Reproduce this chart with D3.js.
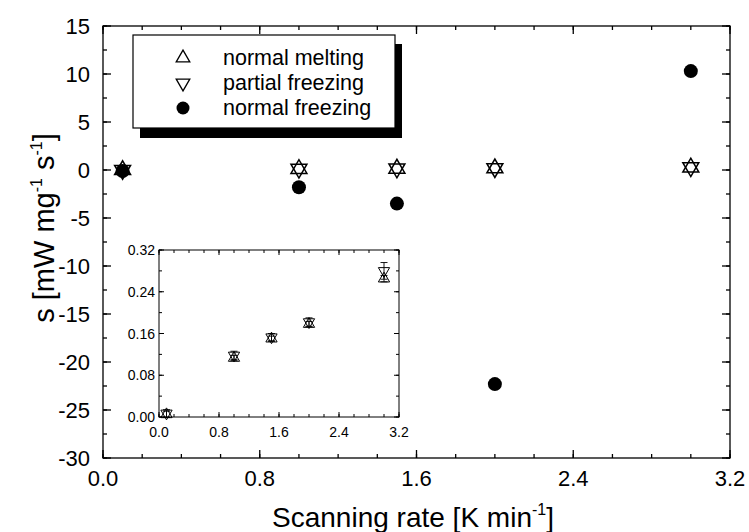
<!DOCTYPE html>
<html><head><meta charset="utf-8">
<script src="https://cdn.jsdelivr.net/npm/d3@7"></script>
<style>body{margin:0;background:#fff}svg{font-family:"Liberation Sans",Arial,sans-serif}</style>
</head><body><svg id="c" width="749" height="532"></svg>
<script>
const rates = [0.1, 1.0, 1.5, 2.0, 3.0];
const meltingMain = [0.0, 0.12, 0.15, 0.18, 0.27];
const partialMain = [0.0, 0.12, 0.15, 0.18, 0.28];
const freezingMain = [-0.1, -1.8, -3.5, -22.3, 10.3];
const meltingInset = [0.005, 0.113, 0.150, 0.178, 0.265];
const partialInset = [0.007, 0.118, 0.153, 0.182, 0.280];
const meltingErr = [0.006, 0.005, 0.005, 0.005, 0.006];
const partialErr = [0.007, 0.008, 0.007, 0.008, 0.016];
const xTicks = [0.0, 0.8, 1.6, 2.4, 3.2];
const yTicks = [15, 10, 5, 0, -5, -10, -15, -20, -25, -30];
const insetYTicks = [0.00, 0.08, 0.16, 0.24, 0.32];
const legendLabels = ["normal melting", "partial freezing", "normal freezing"];

const svg = d3.select("#c");
const x = d3.scaleLinear().domain([0, 3.2]).range([103, 730]);
const y = d3.scaleLinear().domain([-30, 15]).range([458, 26]);

function frame(g, xs, ys, xt, xm, yt, ym, maj, mino, sw) {
  const [x0, x1] = xs.range(), [y0, y1] = ys.range();
  g.append("rect").attr("x", x0).attr("y", y1).attr("width", x1 - x0).attr("height", y0 - y1)
    .attr("fill", "none").attr("stroke", "#000").attr("stroke-width", sw);
  const tick = (v, len, isX) => {
    if (isX) {
      const p = xs(v);
      g.append("line").attr("x1", p).attr("x2", p).attr("y1", y0).attr("y2", y0 - len).attr("stroke", "#000").attr("stroke-width", sw);
      g.append("line").attr("x1", p).attr("x2", p).attr("y1", y1).attr("y2", y1 + len).attr("stroke", "#000").attr("stroke-width", sw);
    } else {
      const p = ys(v);
      g.append("line").attr("y1", p).attr("y2", p).attr("x1", x0).attr("x2", x0 + len).attr("stroke", "#000").attr("stroke-width", sw);
      g.append("line").attr("y1", p).attr("y2", p).attr("x1", x1).attr("x2", x1 - len).attr("stroke", "#000").attr("stroke-width", sw);
    }
  };
  xm.forEach(v => tick(v, mino, true));
  xt.forEach(v => tick(v, maj, true));
  ym.forEach(v => tick(v, mino, false));
  yt.forEach(v => tick(v, maj, false));
}

const sym = (type, size) => d3.symbol().type(type).size(size)();
const downTri = { draw(ctx, size) { const s = Math.sqrt(size * 4 / Math.sqrt(3)); const h = s * Math.sqrt(3) / 2;
  ctx.moveTo(-s / 2, -h / 3); ctx.lineTo(s / 2, -h / 3); ctx.lineTo(0, 2 * h / 3); ctx.closePath(); } };
const upTri = { draw(ctx, size) { const s = Math.sqrt(size * 4 / Math.sqrt(3)); const h = s * Math.sqrt(3) / 2;
  ctx.moveTo(-s / 2, h / 3); ctx.lineTo(s / 2, h / 3); ctx.lineTo(0, -2 * h / 3); ctx.closePath(); } };

// main frame
const main = svg.append("g");
const xMinor = d3.range(0, 3.21, 0.2), yMinor = d3.range(-30, 15.1, 2.5);
frame(main, x, y, xTicks, xMinor, yTicks, yMinor, 8, 4, 1.3);

main.selectAll(".xl").data(xTicks).join("text").attr("x", d => x(d)).attr("y", 486)
  .attr("text-anchor", "middle").attr("font-size", 22).text(d => d.toFixed(1));
main.selectAll(".yl").data(yTicks).join("text").attr("x", 90).attr("y", d => y(d) + 8)
  .attr("text-anchor", "end").attr("font-size", 22).text(d => d);

const xt = svg.append("text").attr("x", 413).attr("y", 527).attr("text-anchor", "middle").attr("font-size", 28);
xt.append("tspan").text("Scanning rate [K min");
xt.append("tspan").attr("font-size", 16).attr("dy", -12).text("-1");
xt.append("tspan").attr("dy", 12).text("]");

const yt = svg.append("text").attr("transform", "translate(54,228) rotate(-90)").attr("text-anchor", "middle").attr("font-size", 29);
yt.append("tspan").text("s [mW mg");
yt.append("tspan").attr("font-size", 16).attr("dy", -12).text("-1");
yt.append("tspan").attr("dy", 12).text(" s");
yt.append("tspan").attr("font-size", 16).attr("dy", -12).text("-1");
yt.append("tspan").attr("dy", 12).text("]");

// main data
main.selectAll(".mu").data(rates).join("path").attr("transform", (d, i) => `translate(${x(d)},${y(meltingMain[i])})`)
  .attr("d", sym(upTri, 110)).attr("fill", "none").attr("stroke", "#000").attr("stroke-width", 1.5);
main.selectAll(".pd").data(rates).join("path").attr("transform", (d, i) => `translate(${x(d)},${y(partialMain[i])})`)
  .attr("d", sym(downTri, 110)).attr("fill", "none").attr("stroke", "#000").attr("stroke-width", 1.5);
main.selectAll(".fc").data(rates).join("circle").attr("cx", d => x(d)).attr("cy", (d, i) => y(freezingMain[i]))
  .attr("r", 7).attr("fill", "#000");

// legend
const lg = svg.append("g");
lg.append("rect").attr("x", 140).attr("y", 44).attr("width", 262).attr("height", 94).attr("fill", "#000");
lg.append("rect").attr("x", 133).attr("y", 35).attr("width", 262).attr("height", 93).attr("fill", "#fff").attr("stroke", "#000").attr("stroke-width", 1.2);
const lgY = [58, 83, 108];
lg.append("path").attr("transform", `translate(183,${lgY[0]})`).attr("d", sym(upTri, 80)).attr("fill", "none").attr("stroke", "#000").attr("stroke-width", 1.3);
lg.append("path").attr("transform", `translate(183,${lgY[1]})`).attr("d", sym(downTri, 80)).attr("fill", "none").attr("stroke", "#000").attr("stroke-width", 1.3);
lg.append("circle").attr("cx", 183).attr("cy", lgY[2]).attr("r", 6.5).attr("fill", "#000");
lg.selectAll(".lt").data(legendLabels).join("text").attr("x", 223).attr("y", (d, i) => lgY[i] + 7)
  .attr("font-size", 21.5).text(d => d);

// inset
const ix = d3.scaleLinear().domain([0, 3.2]).range([159, 399]);
const iy = d3.scaleLinear().domain([0, 0.32]).range([417, 250]);
const ins = svg.append("g");
ins.append("rect").attr("x", 159).attr("y", 250).attr("width", 240).attr("height", 167).attr("fill", "#fff");
frame(ins, ix, iy, xTicks, d3.range(0, 3.21, 0.2), insetYTicks, d3.range(0, 0.321, 0.04), 5, 3, 1);
ins.selectAll(".ixl").data(xTicks).join("text").attr("x", d => ix(d)).attr("y", 437)
  .attr("text-anchor", "middle").attr("font-size", 14).text(d => d.toFixed(1));
ins.selectAll(".iyl").data(insetYTicks).join("text").attr("x", 155).attr("y", d => iy(d) + 5)
  .attr("text-anchor", "end").attr("font-size", 14).text(d => d.toFixed(2));

function errBars(vals, errs) {
  rates.forEach((r, i) => {
    const cx = ix(r), top = iy(vals[i] + errs[i]), bot = iy(vals[i] - errs[i]);
    ins.append("line").attr("x1", cx).attr("x2", cx).attr("y1", top).attr("y2", bot).attr("stroke", "#000").attr("stroke-width", 0.9);
    [top, bot].forEach(yy => ins.append("line").attr("x1", cx - 3.5).attr("x2", cx + 3.5).attr("y1", yy).attr("y2", yy).attr("stroke", "#000").attr("stroke-width", 0.9));
  });
}
errBars(meltingInset, meltingErr);
errBars(partialInset, partialErr);
ins.selectAll(".imu").data(rates).join("path").attr("transform", (d, i) => `translate(${ix(d)},${iy(meltingInset[i])})`)
  .attr("d", sym(upTri, 55)).attr("fill", "none").attr("stroke", "#000").attr("stroke-width", 1);
ins.selectAll(".ipd").data(rates).join("path").attr("transform", (d, i) => `translate(${ix(d)},${iy(partialInset[i])})`)
  .attr("d", sym(downTri, 55)).attr("fill", "none").attr("stroke", "#000").attr("stroke-width", 1);
</script></body></html>
